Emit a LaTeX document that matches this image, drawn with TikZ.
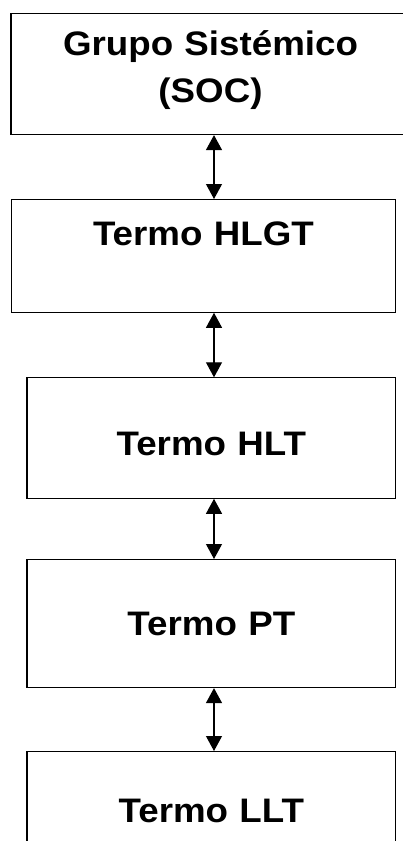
\documentclass[tikz,border=0pt]{standalone}
\usepackage{fontspec}
\newfontfamily\termfont[FakeStretch=1.08]{Liberation Sans}
\usetikzlibrary{arrows.meta}

\begin{document}
\begin{tikzpicture}[x=1pt, y=1pt,
          every node/.style={align=center},
          termbox/.style={draw, line width=1.1pt, inner sep=0pt, anchor=north,
                          font=\termfont\bfseries\fontsize{34}{46.7}\selectfont},
          link/.style={line width=1.1pt, {Triangle[width=16pt,length=15pt]}-{Triangle[width=16pt,length=15pt]}}]
            \clip (0,0) rectangle (403,-841);
            % Boxes
            \node[termbox, text width=399pt, text height=42.3pt, text depth=79pt] (soc) at (210.5,-12.7) {Grupo Sistémico\\(SOC)};
            \node[termbox, text width=384.7pt, text height=46pt, text depth=66.7pt] (hlgt) at (203.4,-199) {Termo HLGT};
            \node[termbox, text width=368.7pt, text height=77.7pt, text depth=42.7pt] (hlt) at (211.35,-377.3) {Termo HLT};
            \node[termbox, text width=368.7pt, text height=76pt, text depth=52pt] (pt) at (211.35,-559) {Termo PT};
            \node[termbox, text width=368.7pt, text height=70.7pt, text depth=100pt] (llt) at (211.35,-751) {Termo LLT};
            % Links
            \coordinate (axis) at (214,0);
            \draw[link] (soc.south -| axis) -- (hlgt.north -| axis);
            \draw[link] (hlgt.south -| axis) -- (hlt.north -| axis);
            \draw[link] (hlt.south -| axis) -- (pt.north -| axis);
            \draw[link] (pt.south -| axis) -- (llt.north -| axis);
        \end{tikzpicture}
\end{document}
